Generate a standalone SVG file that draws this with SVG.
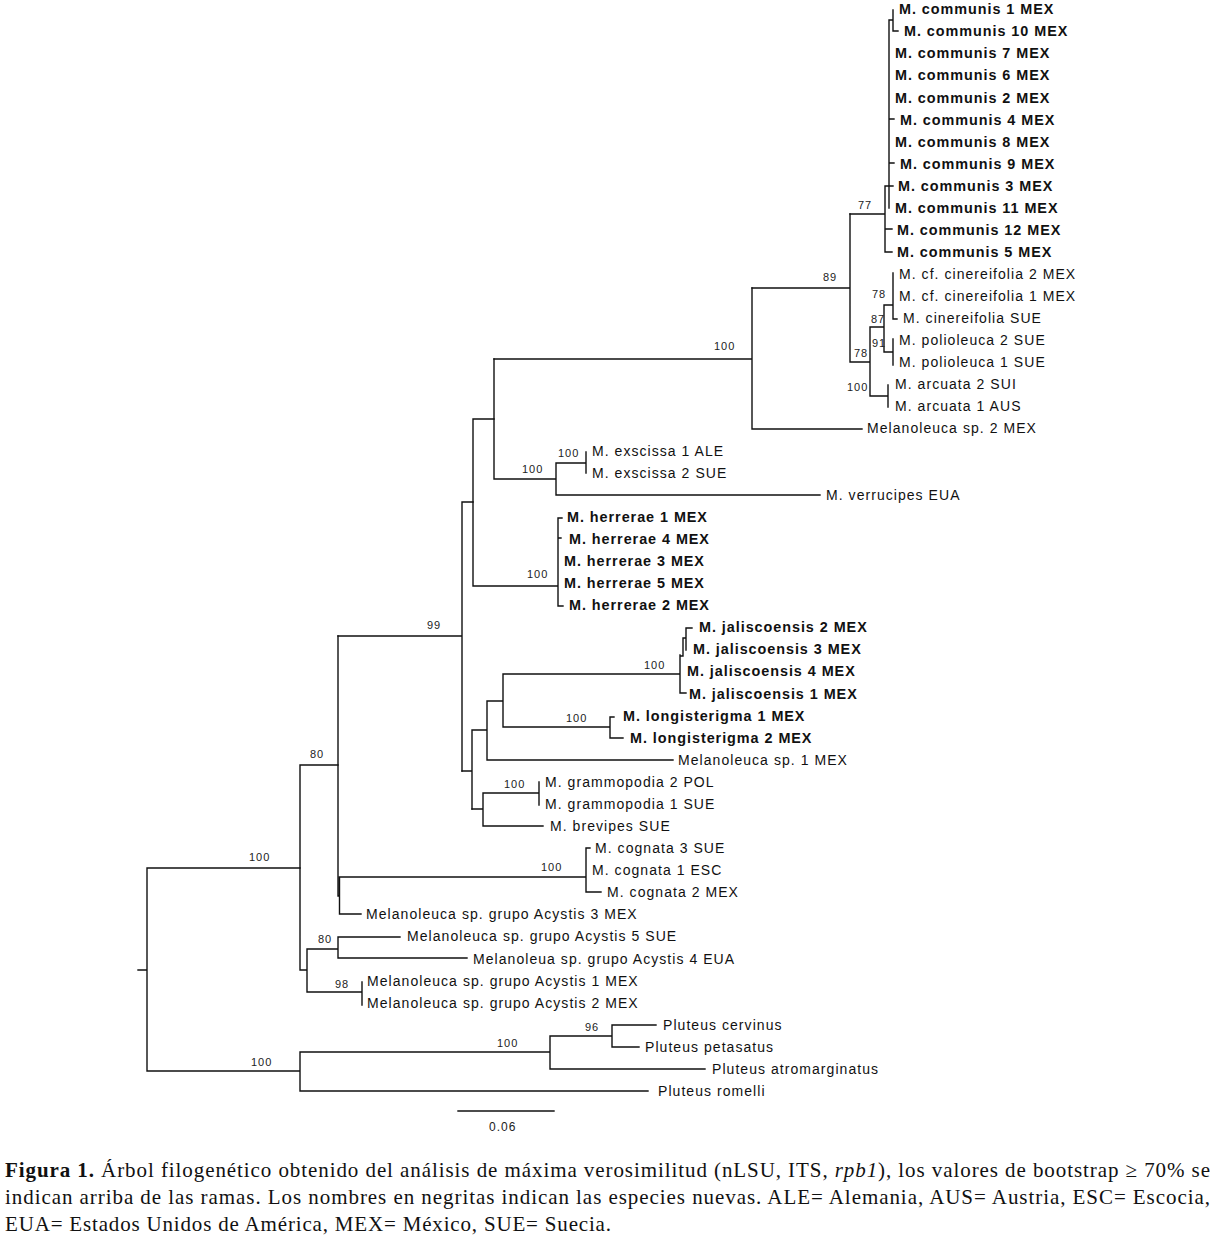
<svg xmlns="http://www.w3.org/2000/svg" width="1212" height="1241" viewBox="0 0 1212 1241">
<style>
.tx{font-family:"Liberation Sans",Arial,Helvetica,sans-serif;font-size:14px;letter-spacing:1.05px;fill:#111}
.b{font-weight:bold;font-size:14.4px;letter-spacing:0.95px}
.bs{font-family:"Liberation Sans",Arial,Helvetica,sans-serif;font-size:11px;letter-spacing:1px;fill:#222}
.cap{font-family:"Liberation Serif","Times New Roman",serif;font-size:21px;fill:#111}
.br{fill:none;stroke:#111;stroke-width:1.4;stroke-linecap:square}
</style>
<rect width="1212" height="1241" fill="#fff"/>
<g id="connectors" class="br">
<path d="M893,10 V31 H898 M889,20 H893 M889,20 V208 M889,119 H894 M889,163 H894 M885,186 H893 M885,186 V252 H892 M885,229 H892 M850,214 H885"/>
<path d="M752,288 H850 M850,214 V362 H870 M870,327 V396 M870,327 H884 M884,305 V352 M884,305 H893 M893,273 V319 H897 M884,352 H893 M893,339 V365 M870,396 H888 M888,385 V407"/>
<path d="M752,288 V429 H862 M494,359 H752"/>
<path d="M494,359 V479 H556 M556,463 V495 M556,463 H586 M586,452 V473 M556,495 H820"/>
<path d="M473,419 H494 M473,419 V586 H558 M558,518 V606 H563 M558,518 H562 M558,538 H561"/>
<path d="M462,502 H473 M462,502 V771 M338,636 H462"/>
<path d="M462,771 H472 M472,730 V809 M472,730 H487 M487,701 V760 H673 M487,701 H503 M503,674 V727 M503,674 H680 M680,655 V693 H686 M680,656 H683 V638 H686 M686,628 V650 M686,628 H692 M503,727 H610 M610,717 V738 H623 M610,717 H614"/>
<path d="M472,809 H483 M483,793 V826 H543 M483,793 H539 M539,782 V805"/>
<path d="M338,636 V896 H339.5 M339.5,877 V914 H361 M339.5,877 H586 M586,848 V892 H601 M586,848 H590"/>
<path d="M300,765 H338 M300,765 V970 H307 M307,949 V992 M307,949 H338 M338,937 V958 M338,937 H400 M338,958 H467 M307,992 H362 M362,982 V1005"/>
<path d="M147,868 H300 M147,868 V1071 M138,970 H147 M147,1071 H300 M300,1052 V1091 M300,1052 H550 M550,1036 V1069 M550,1036 H612 M612,1025 V1047 M612,1025 H656 M612,1047 H639 M550,1069 H705 M300,1091 H648"/>
<path d="M458,1111 H554"/>
</g>
<g id="bootstrap" class="bs">
<text x="858" y="209">77</text>
<text x="823" y="281">89</text>
<text x="872" y="298">78</text>
<text x="871" y="323">87</text>
<text x="872" y="347">91</text>
<text x="854" y="357">78</text>
<text x="847" y="391">100</text>
<text x="714" y="350">100</text>
<text x="558" y="457">100</text>
<text x="522" y="473">100</text>
<text x="527" y="578">100</text>
<text x="427" y="629">99</text>
<text x="644" y="669">100</text>
<text x="566" y="722">100</text>
<text x="504" y="788">100</text>
<text x="541" y="871">100</text>
<text x="310" y="758">80</text>
<text x="249" y="861">100</text>
<text x="318" y="943">80</text>
<text x="335" y="988">98</text>
<text x="585" y="1031">96</text>
<text x="497" y="1047">100</text>
<text x="251" y="1066">100</text>
</g>
<g id="scale"><text class="bs" x="489" y="1131" style="font-size:12px">0.06</text></g>
<g id="n_comm1"><text class="tx b" x="899" y="14">M. communis 1 MEX</text></g>
<g id="n_comm10"><text class="tx b" x="904" y="36">M. communis 10 MEX</text></g>
<g id="n_comm7"><text class="tx b" x="895" y="58">M. communis 7 MEX</text></g>
<g id="n_comm6"><text class="tx b" x="895" y="80">M. communis 6 MEX</text></g>
<g id="n_comm2"><text class="tx b" x="895" y="103">M. communis 2 MEX</text></g>
<g id="n_comm4"><text class="tx b" x="900" y="125">M. communis 4 MEX</text></g>
<g id="n_comm8"><text class="tx b" x="895" y="147">M. communis 8 MEX</text></g>
<g id="n_comm9"><text class="tx b" x="900" y="169">M. communis 9 MEX</text></g>
<g id="n_comm3"><text class="tx b" x="898" y="191">M. communis 3 MEX</text></g>
<g id="n_comm11"><text class="tx b" x="895" y="213">M. communis 11 MEX</text></g>
<g id="n_comm12"><text class="tx b" x="897" y="235">M. communis 12 MEX</text></g>
<g id="n_comm5"><text class="tx b" x="897" y="257">M. communis 5 MEX</text></g>
<g id="n_cfcin2"><text class="tx" x="899" y="279">M. cf. cinereifolia 2 MEX</text></g>
<g id="n_cfcin1"><text class="tx" x="899" y="301">M. cf. cinereifolia 1 MEX</text></g>
<g id="n_cinsue"><text class="tx" x="903" y="323">M. cinereifolia SUE</text></g>
<g id="n_pol2"><text class="tx" x="899" y="345">M. polioleuca 2 SUE</text></g>
<g id="n_pol1"><text class="tx" x="899" y="367">M. polioleuca 1 SUE</text></g>
<g id="n_arc2"><text class="tx" x="895" y="389">M. arcuata 2 SUI</text></g>
<g id="n_arc1"><text class="tx" x="895" y="411">M. arcuata 1 AUS</text></g>
<g id="n_melsp2"><text class="tx" x="867" y="433">Melanoleuca sp. 2 MEX</text></g>
<g id="n_exs1"><text class="tx" x="592" y="456">M. exscissa 1 ALE</text></g>
<g id="n_exs2"><text class="tx" x="592" y="478">M. exscissa 2 SUE</text></g>
<g id="n_verr"><text class="tx" x="826" y="500">M. verrucipes EUA</text></g>
<g id="n_her1"><text class="tx b" x="567" y="522">M. herrerae 1 MEX</text></g>
<g id="n_her4"><text class="tx b" x="569" y="544">M. herrerae 4 MEX</text></g>
<g id="n_her3"><text class="tx b" x="564" y="566">M. herrerae 3 MEX</text></g>
<g id="n_her5"><text class="tx b" x="564" y="588">M. herrerae 5 MEX</text></g>
<g id="n_her2"><text class="tx b" x="569" y="610">M. herrerae 2 MEX</text></g>
<g id="n_jal2"><text class="tx b" x="699" y="632">M. jaliscoensis 2 MEX</text></g>
<g id="n_jal3"><text class="tx b" x="693" y="654">M. jaliscoensis 3 MEX</text></g>
<g id="n_jal4"><text class="tx b" x="687" y="676">M. jaliscoensis 4 MEX</text></g>
<g id="n_jal1"><text class="tx b" x="689" y="699">M. jaliscoensis 1 MEX</text></g>
<g id="n_lon1"><text class="tx b" x="623" y="721">M. longisterigma 1 MEX</text></g>
<g id="n_lon2"><text class="tx b" x="630" y="743">M. longisterigma 2 MEX</text></g>
<g id="n_melsp1"><text class="tx" x="678" y="765">Melanoleuca sp. 1 MEX</text></g>
<g id="n_gram2"><text class="tx" x="545" y="787">M. grammopodia 2 POL</text></g>
<g id="n_gram1"><text class="tx" x="545" y="809">M. grammopodia 1 SUE</text></g>
<g id="n_brev"><text class="tx" x="550" y="831">M. brevipes SUE</text></g>
<g id="n_cog3"><text class="tx" x="595" y="853">M. cognata 3 SUE</text></g>
<g id="n_cog1"><text class="tx" x="592" y="875">M. cognata 1 ESC</text></g>
<g id="n_cog2"><text class="tx" x="607" y="897">M. cognata 2 MEX</text></g>
<g id="n_acy3"><text class="tx" x="366" y="919">Melanoleuca sp. grupo Acystis 3 MEX</text></g>
<g id="n_acy5"><text class="tx" x="407" y="941">Melanoleuca sp. grupo Acystis 5 SUE</text></g>
<g id="n_acy4"><text class="tx" x="473" y="964">Melanoleua sp. grupo Acystis 4 EUA</text></g>
<g id="n_acy1"><text class="tx" x="367" y="986">Melanoleuca sp. grupo Acystis 1 MEX</text></g>
<g id="n_acy2"><text class="tx" x="367" y="1008">Melanoleuca sp. grupo Acystis 2 MEX</text></g>
<g id="n_cerv"><text class="tx" x="663" y="1030">Pluteus cervinus</text></g>
<g id="n_peta"><text class="tx" x="645" y="1052">Pluteus petasatus</text></g>
<g id="n_atro"><text class="tx" x="712" y="1074">Pluteus atromarginatus</text></g>
<g id="n_rome"><text class="tx" x="658" y="1096">Pluteus romelli</text></g>
<g id="caption" class="cap">
<text x="5" y="1177" textLength="1205" lengthAdjust="spacing"><tspan font-weight="bold">Figura 1.</tspan> Árbol filogenético obtenido del análisis de máxima verosimilitud (nLSU, ITS, <tspan font-style="italic">rpb1</tspan>), los valores de bootstrap ≥ 70% se</text>
<text x="5" y="1204" textLength="1205" lengthAdjust="spacing">indican arriba de las ramas. Los nombres en negritas indican las especies nuevas. ALE= Alemania, AUS= Austria, ESC= Escocia,</text>
<text x="5" y="1231" textLength="606" lengthAdjust="spacing">EUA= Estados Unidos de América, MEX= México, SUE= Suecia.</text>
</g>
</svg>
